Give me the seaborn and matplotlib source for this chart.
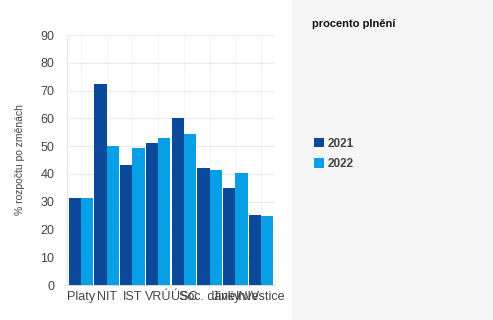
import numpy as np
import pandas as pd
import matplotlib
matplotlib.use("Agg")
import matplotlib.pyplot as plt
from matplotlib.patches import Rectangle, Patch
import seaborn as sns

# data
kategorie = ['Platy', 'NIT', 'IST', 'VRÚ', 'ÚSC', 'Soc. dávky', 'Jiné NIV', 'Investice']
roky = ['2021', '2022']
plneni_2021 = [31.5, 72.5, 43.3, 51.2, 60.2, 42.2, 35.0, 25.3]
plneni_2022 = [31.5, 50.2, 49.4, 53.0, 54.5, 41.5, 40.5, 24.9]
barvy = ['#0b4a9b', '#079fe6']

df = pd.DataFrame({
    'kategorie': kategorie * 2,
    'rok': [roky[0]] * len(kategorie) + [roky[1]] * len(kategorie),
    'hodnota': plneni_2021 + plneni_2022,
})

sns.set_style('white')
plt.rcParams['font.family'] = ['Liberation Sans', 'DejaVu Sans']

fig = plt.figure(figsize=(4.93, 3.2), dpi=100)
fig.patch.set_facecolor('white')
# sedy panel legendy vpravo
fig.patches.append(Rectangle((292 / 493, 0), 1, 1, transform=fig.transFigure,
                             facecolor='#f6f6f6', edgecolor='none', zorder=0))

ax = fig.add_axes([67 / 493, 35 / 320, 208 / 493, 250 / 320])
sns.barplot(data=df, x='kategorie', y='hodnota', hue='rok', palette=barvy,
            width=0.96, saturation=1, legend=False, ax=ax, zorder=3,
            linewidth=0, edgecolor='none')

ax.set_ylim(0, 90)
ax.set_yticks(np.arange(0, 91, 10))
ax.set_yticks(np.arange(0, 91, 2), minor=True)
ax.set_xlim(-0.55, len(kategorie) - 0.45)
ax.grid(axis='y', color='#ebebeb', linewidth=0.8, zorder=0)
ax.grid(axis='x', color='#f3f3f3', linewidth=0.6, zorder=0)
ax.set_xticks(np.arange(len(kategorie)) + 0.5, minor=True)
ax.set_axisbelow(True)
for s in ['top', 'right']:
    ax.spines[s].set_visible(False)
ax.spines['left'].set_color('#e6e6e6')
ax.spines['bottom'].set_color('#d8d8d8')
ax.tick_params(axis='y', which='major', length=3, color='#dddddd', labelsize=9, labelcolor='#444444', pad=6)
ax.tick_params(axis='y', which='minor', length=2, color='#e6e6e6')
ax.tick_params(axis='x', which='both', length=0, labelsize=9, labelcolor='#444444', pad=4)
ax.set_xlabel('')
ax.set_ylabel('% rozpočtu po změnách', fontsize=7.5, color='#444444', labelpad=11)
ax.set_xticklabels(kategorie)

# legenda
fig.text(312 / 493, 1 - 24 / 320, 'procento plnění', fontsize=8, fontweight='bold',
         color='#111111', va='center', ha='left')
handles = [Patch(facecolor=barvy[i], edgecolor='none', label=roky[i]) for i in range(2)]
fig.legend(handles=handles, loc='upper left', bbox_to_anchor=(303 / 493, 1 - 127 / 320),
           frameon=False, handlelength=0.9, handleheight=0.9,
           handletextpad=0.3, labelspacing=0.7, prop={'weight': 'bold', 'size': 8.5},
           labelcolor='#444444')

fig.savefig('out.png', dpi=100)
